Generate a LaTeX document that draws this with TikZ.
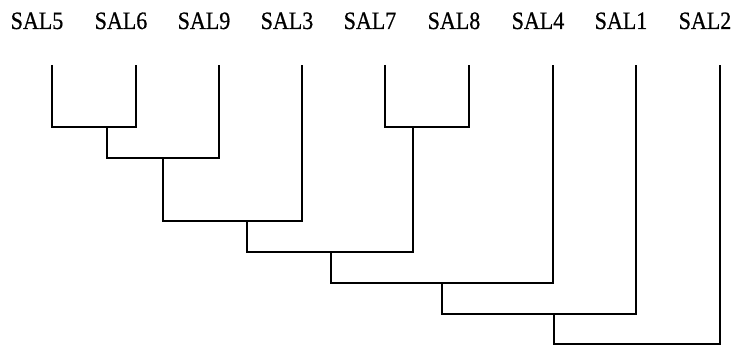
\documentclass[tikz,border=0pt]{standalone}
\usepackage{fontspec}
\setmainfont{Liberation Serif}[FakeStretch=0.88,FakeBold=0.6]
\begin{document}
\begin{tikzpicture}[x=1pt,y=-1pt,
  lbl/.style={anchor=base,inner sep=0pt,font=\fontsize{25}{25}\selectfont},
  link/.style={line width=1.3pt,black}]
\useasboundingbox (0,0) rectangle (734,345);
% labels
\foreach \n/\x in {5/52,6/136,9/219,3/302,7/385,8/469,4/553,1/636,2/720}{
  \node[lbl] (t\n) at (\x-15,29) {SAL\n};
  \coordinate (l\n) at (\x,65);
}
% merge points
\coordinate (m56) at (107,127);
\coordinate (m78) at (413,127);
\coordinate (m569) at (163,158);
\coordinate (m5693) at (247,221);
\coordinate (mA) at (331,252);
\coordinate (mB) at (442,283);
\coordinate (mC) at (554,314);
\coordinate (mD) at (637,344);
\draw[link] (l5) |- (m56) -| (l6);
\draw[link] (l7) |- (m78) -| (l8);
\draw[link] (m56) |- (m569) -| (l9);
\draw[link] (m569) |- (m5693) -| (l3);
\draw[link] (m5693) |- (mA) -| (m78);
\draw[link] (mA) |- (mB) -| (l4);
\draw[link] (mB) |- (mC) -| (l1);
\draw[link] (mC) |- (mD) -| (l2);
\end{tikzpicture}
\end{document}
